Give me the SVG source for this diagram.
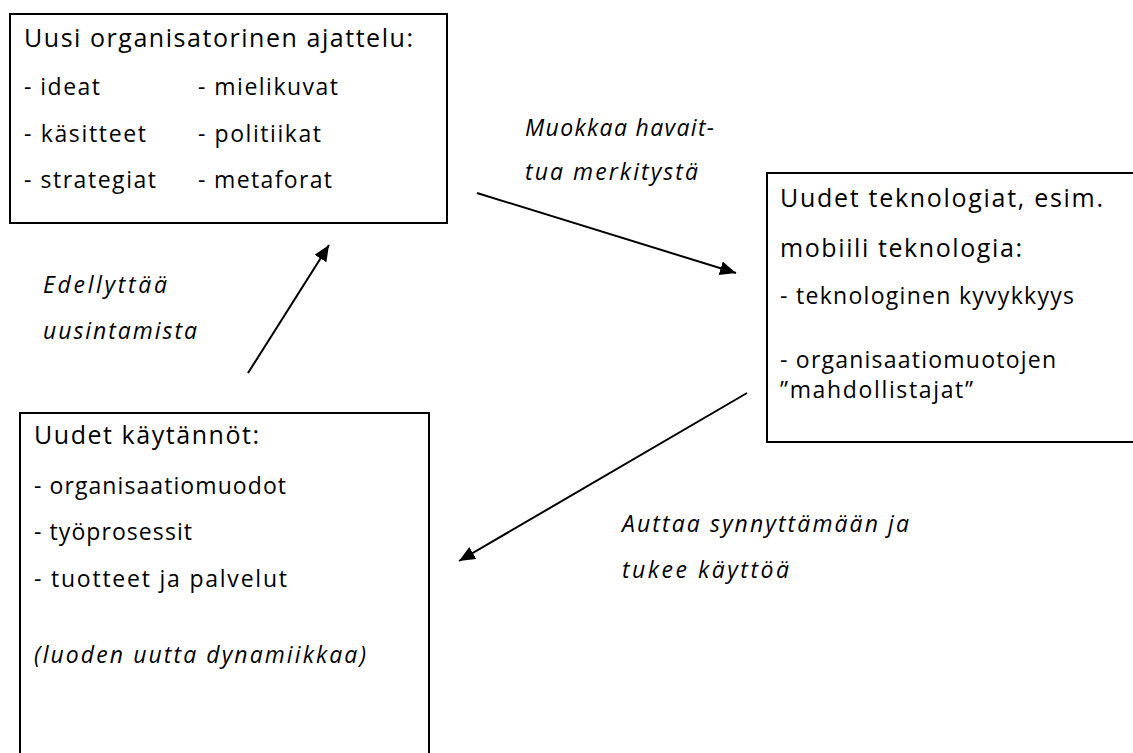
<svg xmlns="http://www.w3.org/2000/svg" width="1133" height="753" viewBox="0 0 1133 753">
<style>
.box{fill:#fff;stroke:#000;stroke-width:2}
.t{font-family:"Open Sans","DejaVu Sans",sans-serif;font-size:23px;fill:#000}
.h{font-size:25px}
.i{font-style:italic}
.c{stroke:#000;stroke-width:2;fill:none}
</style>
<defs>
<marker id="ah" markerUnits="userSpaceOnUse" markerWidth="20" markerHeight="16" refX="16" refY="7" orient="auto">
<path d="M0,0 L16,7 L0,14 Z" fill="#000"/>
</marker>
</defs>
<rect width="1133" height="753" fill="#fff"/>
<g id="n1">
<rect class="box" x="10" y="14" width="437" height="209"/>
<text class="t h" x="24" y="47" textLength="389">Uusi organisatorinen ajattelu:</text>
<text class="t" x="24" y="95" textLength="76">- ideat</text>
<text class="t" x="198" y="95" textLength="140">- mielikuvat</text>
<text class="t" x="24" y="142" textLength="122">- käsitteet</text>
<text class="t" x="198" y="142" textLength="123">- politiikat</text>
<text class="t" x="24" y="188" textLength="132">- strategiat</text>
<text class="t" x="198" y="188" textLength="134">- metaforat</text>
</g>
<g id="n2">
<rect class="box" x="767" y="173" width="380" height="269"/>
<text class="t h" x="780" y="207" textLength="323">Uudet teknologiat, esim.</text>
<text class="t h" x="780" y="257" textLength="242">mobiili teknologia:</text>
<text class="t" x="780" y="304" textLength="294">- teknologinen kyvykkyys</text>
<text class="t" x="780" y="368" textLength="276">- organisaatiomuotojen</text>
<text class="t" x="780" y="398" textLength="193">”mahdollistajat”</text>
</g>
<g id="n3">
<rect class="box" x="20" y="413" width="409" height="400"/>
<text class="t h" x="34" y="444" textLength="225">Uudet käytännöt:</text>
<text class="t" x="34" y="494" textLength="252">- organisaatiomuodot</text>
<text class="t" x="34" y="540" textLength="158">- työprosessit</text>
<text class="t" x="34" y="587" textLength="253">- tuotteet ja palvelut</text>
<text class="t i" x="34" y="663" textLength="332">(luoden uutta dynamiikkaa)</text>
</g>
<g id="labels">
<text class="t i" x="525" y="136" textLength="189">Muokkaa havait-</text>
<text class="t i" x="525" y="180" textLength="173">tua merkitystä</text>
<text class="t i" x="43" y="293" textLength="124">Edellyttää</text>
<text class="t i" x="43" y="339" textLength="154">uusintamista</text>
<text class="t i" x="622" y="532" textLength="287">Auttaa synnyttämään ja</text>
<text class="t i" x="622" y="578" textLength="167">tukee käyttöä</text>
</g>
<g id="connectors">
<line class="c" x1="477" y1="193" x2="736" y2="273" marker-end="url(#ah)"/>
<line class="c" x1="248" y1="373" x2="329" y2="245" marker-end="url(#ah)"/>
<line class="c" x1="747" y1="393" x2="459" y2="561" marker-end="url(#ah)"/>
</g>
</svg>
